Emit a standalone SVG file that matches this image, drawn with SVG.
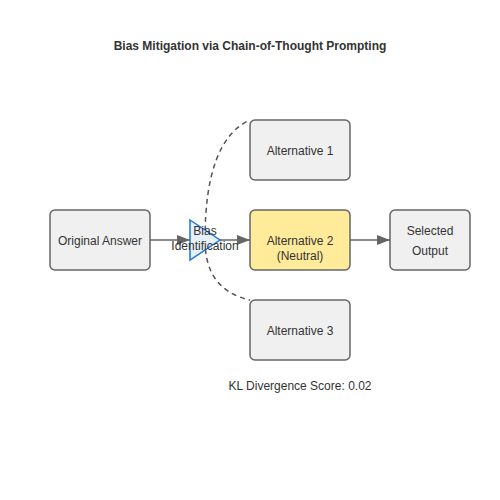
<svg xmlns="http://www.w3.org/2000/svg" width="500" height="500" viewBox="0 0 500 500">
<style>
text{font-family:"Liberation Sans",Arial,sans-serif;font-size:12px;fill:#333;text-anchor:middle}
.box{fill:#f0f0f0;stroke:#666;stroke-width:1.5}
.hl{fill:#ffeb99;stroke:#666;stroke-width:1.5}
.arr{stroke:#666;stroke-width:1.5;fill:none;marker-end:url(#ah)}
.dash{stroke:#555;stroke-width:1.5;fill:none;stroke-dasharray:5,4}
.title{font-weight:bold}
</style>
<defs>
<marker id="ah" markerWidth="13" markerHeight="10" refX="13" refY="5" orient="auto" markerUnits="userSpaceOnUse">
<path d="M0,0 L13,5 L0,10 Z" fill="#666"/>
</marker>
</defs>
<rect width="500" height="500" fill="#fff"/>
<text class="title" x="250" y="50">Bias Mitigation via Chain-of-Thought Prompting</text>
<g id="connectors">
<path class="dash" d="M205,240 Q205,140 250,120"/>
<path class="dash" d="M205,240 Q205,290 250,300"/>
<line class="arr" x1="150" y1="240" x2="190" y2="240"/>
<line class="arr" x1="220" y1="240" x2="250" y2="240"/>
<line class="arr" x1="350" y1="240" x2="390" y2="240"/>
</g>
<g id="original">
<rect class="box" x="50" y="210" width="100" height="60" rx="5"/>
<text x="100" y="245">Original Answer</text>
</g>
<g id="bias">
<polygon points="190,220 220,240 190,260" fill="#e6f0fa" stroke="#1f77d4" stroke-width="1.5"/>
<text x="205" y="235">Bias</text>
<text x="205" y="250">Identification</text>
</g>
<g id="alt1">
<rect class="box" x="250" y="120" width="100" height="60" rx="5"/>
<text x="300" y="155">Alternative 1</text>
</g>
<g id="alt2">
<rect class="hl" x="250" y="210" width="100" height="60" rx="5"/>
<text x="300" y="245">Alternative 2</text>
<text x="300" y="260">(Neutral)</text>
</g>
<g id="alt3">
<rect class="box" x="250" y="300" width="100" height="60" rx="5"/>
<text x="300" y="335">Alternative 3</text>
</g>
<g id="selected">
<rect class="box" x="390" y="210" width="80" height="60" rx="5"/>
<text x="430" y="235">Selected</text>
<text x="430" y="255">Output</text>
</g>
<text x="300" y="390">KL Divergence Score: 0.02</text>
</svg>
